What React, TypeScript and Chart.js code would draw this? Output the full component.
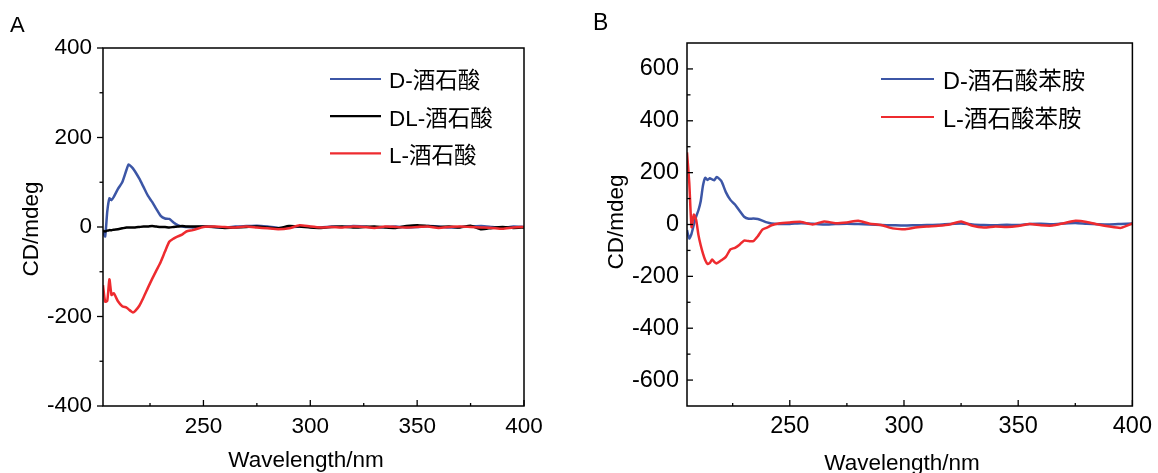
import { useEffect, useRef } from 'react';
import { Chart, registerables } from 'chart.js';

Chart.register(...registerables);

const FONT = "'Liberation Sans', Arial, 'Noto Sans CJK SC', sans-serif";
const BLUE = '#3C56A6';
const RED = '#EE2B2F';
const BLACK = '#000000';

// ---------- Panel A ----------
const wavelengthsA = [
  203, 204, 205, 206, 207, 208, 210, 212, 214, 215, 216, 217, 218, 220, 222, 224, 226, 228, 230, 232,
  234, 236, 238, 240, 242, 245, 250, 255, 260, 265, 270, 275, 280, 285, 290, 295, 300, 305, 310, 315,
  320, 325, 330, 335, 340, 345, 350, 355, 360, 365, 370, 375, 380, 385, 390, 395, 400,
];
const dTartaric = [
  -10, -21, 35, 64, 60, 67, 85, 100, 128, 140, 136, 131, 124, 108, 89, 70, 56, 40, 25, 19,
  18, 10, 4, 1, 0, -1, 1, 0, -1, 1, 2, 3, 1, -2, -1, 1, 0, -1, 1, 0,
  2, 1, -1, 0, 1, -1, 0, 2, 1, -1, 0, 1, 2, 0, -2, 1, 0,
];
const dlTartaric = [
  -8, -10, -8, -7, -7, -6, -5, -3, -1, -1, -1, -1, -1, 0, 1, 1, 2, 1, 0, 0,
  -1, 0, 1, 2, 1, 1, 1, 0, -2, -1, 0, 1, -1, -3, 2, 1, -1, -2, 0, 1,
  -1, 0, 1, -1, -2, 2, 4, 2, 0, 1, -1, 3, -5, -2, 0, -2, -1,
];
const lTartaric = [
  -130, -167, -165, -117, -152, -148, -166, -177, -180, -184, -188, -191, -188, -176, -157, -136, -116, -97, -78, -55,
  -33, -26, -21, -17, -10, -7, 0, 1, 0, -1, 1, -1, -3, -5, -3, 4, 1, -1, 0, -1,
  1, 0, -2, 1, 0, -1, 0, 1, -2, 0, 1, 0, -1, -2, -4, -1, 0,
];
const xTicksA = [250, 300, 350, 400];
const xMinorA = [225, 275, 325, 375];
const yTicksA = [-400, -200, 0, 200, 400];
const yMinorA = [-300, -100, 100, 300];
const labelsA = ['D-酒石酸', 'DL-酒石酸', 'L-酒石酸'];

// ---------- Panel B ----------
const wavelengthsB = [
  205, 206, 207, 208, 209, 210, 211, 212, 213, 214, 215, 216, 217, 218, 220, 222, 224, 226, 228, 230,
  232, 234, 236, 238, 240, 242, 245, 250, 255, 260, 265, 270, 275, 280, 285, 290, 295, 300, 305, 310,
  315, 320, 325, 330, 335, 340, 345, 350, 355, 360, 365, 370, 375, 380, 385, 390, 395, 400,
];
const dAnilide = [
  -22, -54, -35, 0, 30, 55, 90, 150, 180, 172, 178, 174, 171, 183, 168, 125, 95, 77, 53, 30,
  22, 23, 21, 15, 8, 4, 2, 2, 5, 3, 0, 2, 3, 2, 0, -2, -3, -4, -3, -2,
  -1, 2, 4, 0, -2, -3, -1, -2, 2, 3, 1, 4, 6, 3, 1, 0, 2, 4,
];
const lAnilide = [
  278, 160, -10, 38, 18, -40, -80, -112, -138, -152, -148, -135, -145, -150, -138, -125, -96, -90, -78, -62,
  -64, -64, -45, -20, -12, -3, 4, 8, 10, 0, 12, 5, 8, 14, 3, -2, -15, -18, -12, -8,
  -5, 0, 12, -5, -12, -8, -10, -6, 2, -3, -4, 5, 14, 10, 0, -8, -13, 4,
];
const xTicksB = [250, 300, 350, 400];
const xMinorB = [225, 275, 325, 375];
const yTicksB = [-600, -400, -200, 0, 200, 400, 600];
const yMinorB = [-500, -300, -100, 100, 300, 500];
const labelsB = ['D-酒石酸苯胺', 'L-酒石酸苯胺'];

const framePlugin = {
  id: 'frame',
  afterDatasetsDraw(chart: any, _args: any, o: any) {
    const { ctx, chartArea: a, scales } = chart;
    const x = scales.x;
    const y = scales.y;
    ctx.save();
    ctx.strokeStyle = '#000';
    ctx.lineWidth = 1.5;
    ctx.strokeRect(a.left, a.top, a.right - a.left, a.bottom - a.top);
    ctx.lineWidth = 1.3;
    const seg = (x1: number, y1: number, x2: number, y2: number) => {
      ctx.beginPath();
      ctx.moveTo(x1, y1);
      ctx.lineTo(x2, y2);
      ctx.stroke();
    };
    o.xMajor.forEach((v: number) => {
      const p = x.getPixelForValue(v);
      seg(p, a.bottom, p, a.bottom - o.xDir * 6);
    });
    o.xMinor.forEach((v: number) => {
      const p = x.getPixelForValue(v);
      seg(p, a.bottom, p, a.bottom - o.xDir * 3);
    });
    o.yMajor.forEach((v: number) => {
      const p = y.getPixelForValue(v);
      seg(a.left, p, a.left + o.yDir * 6, p);
    });
    o.yMinor.forEach((v: number) => {
      const p = y.getPixelForValue(v);
      seg(a.left, p, a.left + o.yDir * 3.5, p);
    });
    // legend
    ctx.fillStyle = '#000';
    ctx.textAlign = 'left';
    ctx.textBaseline = 'alphabetic';
    ctx.font = `${o.legSize}px ${FONT}`;
    chart.data.datasets.forEach((ds: any, i: number) => {
      const ly = o.legY + i * o.legGap;
      ctx.strokeStyle = ds.borderColor;
      ctx.lineWidth = 2.2;
      seg(o.legX1, ly, o.legX2, ly);
      ctx.fillText(ds.label, o.legTextX, ly + o.legSize * 0.42);
    });
    // panel label
    ctx.font = `${o.panelSize}px ${FONT}`;
    ctx.fillText(o.panel, o.panelX, o.panelY);
    // x title
    ctx.font = `${o.titleSize}px ${FONT}`;
    ctx.textAlign = 'center';
    ctx.fillText('Wavelength/nm', o.xTitleX, o.xTitleY);
    // y title
    ctx.translate(o.yTitleX, o.yTitleY);
    ctx.rotate(-Math.PI / 2);
    ctx.fillText('CD/mdeg', 0, 0);
    ctx.restore();
  },
};

function makeConfig(p: any): any {
  return {
    type: 'line',
    data: {
      datasets: p.series.map((s: any) => ({
        label: s.label,
        data: p.xs.map((w: number, i: number) => ({ x: w, y: s.values[i] })),
        borderColor: s.color,
        backgroundColor: s.color,
        borderWidth: 2.5,
        pointRadius: 0,
        tension: 0.2,
        order: s.order,
      })),
    },
    options: {
      responsive: false,
      animation: false,
      layout: { padding: { left: 0, right: p.padRight, top: p.padTop, bottom: 0 } },
      scales: {
        x: {
          type: 'linear',
          min: p.xMin,
          max: p.xMax,
          afterBuildTicks: (s: any) => {
            s.ticks = p.xTicks.map((v: number) => ({ value: v }));
          },
          afterFit: (s: any) => {
            s.height = p.xAxisH;
          },
          grid: { display: false, drawTicks: false },
          border: { display: false },
          ticks: {
            font: { family: FONT, size: p.fontSize },
            color: '#000',
            padding: p.xPad,
            maxRotation: 0,
            autoSkip: false,
          },
        },
        y: {
          type: 'linear',
          min: p.yMin,
          max: p.yMax,
          afterBuildTicks: (s: any) => {
            s.ticks = p.yTicks.map((v: number) => ({ value: v }));
          },
          afterFit: (s: any) => {
            s.width = p.yAxisW;
          },
          grid: { display: false, drawTicks: false },
          border: { display: false },
          ticks: {
            font: { family: FONT, size: p.fontSize },
            color: '#000',
            padding: p.yPad,
            autoSkip: false,
          },
        },
      },
      plugins: {
        legend: { display: false },
        tooltip: { enabled: false },
        frame: p.frame,
      },
    },
    plugins: [framePlugin],
  };
}

const configA = () =>
  makeConfig({
    xs: wavelengthsA,
    series: [
      { label: labelsA[0], values: dTartaric, color: BLUE, order: 2 },
      { label: labelsA[1], values: dlTartaric, color: BLACK, order: 1 },
      { label: labelsA[2], values: lTartaric, color: RED, order: 0 },
    ],
    xMin: 203,
    xMax: 400,
    yMin: -400,
    yMax: 400,
    xTicks: xTicksA,
    yTicks: yTicksA,
    padRight: 36,
    padTop: 48,
    xAxisH: 67,
    yAxisW: 103,
    fontSize: 22.5,
    xPad: 7,
    yPad: 11,
    frame: {
      xMajor: xTicksA,
      xMinor: xMinorA,
      yMajor: yTicksA,
      yMinor: yMinorA,
      xDir: 1,
      yDir: -1,
      legSize: 22.5,
      titleSize: 22.5,
      legX1: 330,
      legX2: 381,
      legTextX: 389,
      legY: 79,
      legGap: 37.2,
      panel: 'A',
      panelSize: 22,
      panelX: 10,
      panelY: 32,
      xTitleX: 306,
      xTitleY: 467,
      yTitleX: 38,
      yTitleY: 229,
    },
  });

const configB = () =>
  makeConfig({
    xs: wavelengthsB,
    series: [
      { label: labelsB[0], values: dAnilide, color: BLUE, order: 1 },
      { label: labelsB[1], values: lAnilide, color: RED, order: 0 },
    ],
    xMin: 205,
    xMax: 400,
    yMin: -700,
    yMax: 700,
    xTicks: xTicksB,
    yTicks: yTicksB,
    padRight: 19,
    padTop: 43,
    xAxisH: 67,
    yAxisW: 107,
    fontSize: 23.5,
    xPad: 6,
    yPad: 8,
    frame: {
      xMajor: xTicksB,
      xMinor: xMinorB,
      yMajor: yTicksB,
      yMinor: yMinorB,
      xDir: 1,
      yDir: 1,
      legSize: 23.5,
      titleSize: 22.5,
      legX1: 301,
      legX2: 354,
      legTextX: 363,
      legY: 79,
      legGap: 38,
      panel: 'B',
      panelSize: 23,
      panelX: 13,
      panelY: 30,
      xTitleX: 322,
      xTitleY: 470,
      yTitleX: 43,
      yTitleY: 222,
    },
  });

export default function App() {
  const refA = useRef<HTMLCanvasElement>(null);
  const refB = useRef<HTMLCanvasElement>(null);
  useEffect(() => {
    const a = new Chart(refA.current as HTMLCanvasElement, configA());
    const b = new Chart(refB.current as HTMLCanvasElement, configB());
    return () => {
      a.destroy();
      b.destroy();
    };
  }, []);
  return (
    <div style={{ position: 'fixed', left: 0, top: 0, width: 1158, height: 473, background: '#fff' }}>
      <canvas
        ref={refA}
        width={560}
        height={473}
        style={{ position: 'absolute', left: 0, top: 0, width: 560, height: 473 }}
      />
      <canvas
        ref={refB}
        width={578}
        height={473}
        style={{ position: 'absolute', left: 580, top: 0, width: 578, height: 473 }}
      />
    </div>
  );
}
